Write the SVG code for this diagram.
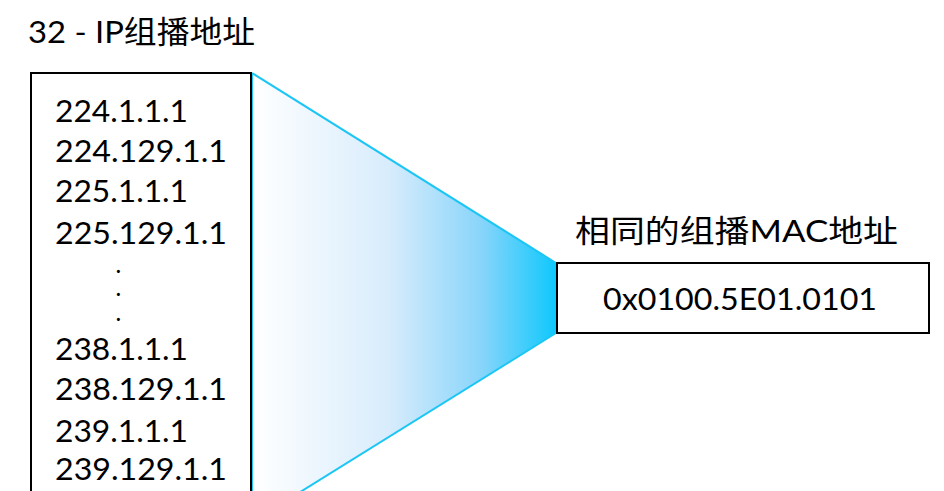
<svg xmlns="http://www.w3.org/2000/svg" width="944" height="491" viewBox="0 0 944 491">
<defs>
<linearGradient id="funnelGrad" x1="252" y1="0" x2="556" y2="0" gradientUnits="userSpaceOnUse">
<stop offset="0" stop-color="#ffffff"/>
<stop offset="0.45" stop-color="#d8ecfc"/>
<stop offset="0.75" stop-color="#8ad5fa"/>
<stop offset="1" stop-color="#0fc8fd"/>
</linearGradient>
<style>
.t{font-family:"Lato","Noto Sans CJK SC",sans-serif;font-size:30px;fill:#000;}
.h{font-size:31px;}
.dot{font-size:20px;font-weight:bold;}
.box{fill:#fff;stroke:#000;stroke-width:2;}
.edge{fill:none;stroke:#1cc6f4;stroke-width:2;}
</style>
</defs>
<rect width="944" height="491" fill="#fff"/>
<g id="connectors">
<polygon points="252,73 556,263 556,333 252,522" fill="url(#funnelGrad)"/>
<polyline class="edge" points="252,73 556,263"/>
<polyline class="edge" points="556,333 252,522"/>
</g>
<g id="title">
<text class="t h" x="28" y="43" textLength="227" lengthAdjust="spacingAndGlyphs">32 - IP组播地址</text>
</g>
<g id="ip-list">
<rect class="box" x="31" y="73" width="220" height="430"/>
<line x1="252.5" y1="74" x2="252.5" y2="491" stroke="#1cc6f4" stroke-width="1"/>
<text class="t" x="55" y="122" textLength="133" lengthAdjust="spacingAndGlyphs">224.1.1.1</text>
<text class="t" x="55" y="162" textLength="172" lengthAdjust="spacingAndGlyphs">224.129.1.1</text>
<text class="t" x="55" y="202" textLength="133" lengthAdjust="spacingAndGlyphs">225.1.1.1</text>
<text class="t" x="55" y="244" textLength="172" lengthAdjust="spacingAndGlyphs">225.129.1.1</text>
<text class="t dot" x="116" y="273">.</text>
<text class="t dot" x="116" y="296">.</text>
<text class="t dot" x="116" y="321">.</text>
<text class="t" x="55" y="360" textLength="133" lengthAdjust="spacingAndGlyphs">238.1.1.1</text>
<text class="t" x="55" y="400" textLength="172" lengthAdjust="spacingAndGlyphs">238.129.1.1</text>
<text class="t" x="55" y="442" textLength="133" lengthAdjust="spacingAndGlyphs">239.1.1.1</text>
<text class="t" x="55" y="480" textLength="172" lengthAdjust="spacingAndGlyphs">239.129.1.1</text>
</g>
<g id="mac">
<text class="t h" x="575" y="242" textLength="323" lengthAdjust="spacingAndGlyphs">相同的组播MAC地址</text>
<rect class="box" x="557" y="263" width="372" height="70"/>
<text class="t" x="603" y="310" textLength="274" lengthAdjust="spacingAndGlyphs">0x0100.5E01.0101</text>
</g>
</svg>
